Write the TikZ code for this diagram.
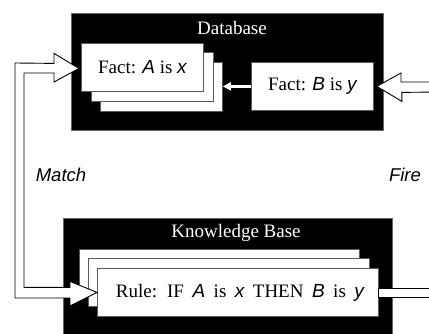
\documentclass[tikz,border=0pt]{standalone}
\usepackage{fontspec}
\setmainfont{Liberation Serif}
\newfontfamily\arialf{Liberation Sans}
\usetikzlibrary{arrows.meta,calc}
\newcommand{\va}[1]{{\arialf\itshape #1}}
\tikzset{
  blackbox/.style={draw=black!60, fill=black, line width=0.8pt, anchor=north west, inner sep=0pt},
  whitebox/.style={draw=black!65, fill=white, line width=0.8pt, anchor=north west, inner sep=0pt, minimum height=48pt},
  ttl/.style={text=white, font=\fontsize{19}{22}\selectfont, inner sep=0pt},
  txt/.style={font=\fontsize{19}{22}\selectfont, inner sep=0pt},
  lbl/.style={font=\fontsize{18.5}{22}\selectfont\arialf\itshape, inner sep=0pt},
  hollow/.style={draw=black, fill=white, line width=0.9pt, line join=miter}
}
\begin{document}
\begin{tikzpicture}[x=1pt,y=-1pt]
\useasboundingbox (0,0) rectangle (429,334);
\clip (0,0) rectangle (429,334);
% Database
\node[blackbox, minimum width=312pt, minimum height=117pt] (db) at (71,13) {};
\node[ttl] (dbt) at (232,28) {Database};
\node[whitebox, minimum width=122pt, minimum height=49pt] (fa3) at (100,62) {};
\node[whitebox, minimum width=122pt, minimum height=49pt] (fa2) at (91,52) {};
\node[whitebox, minimum width=122pt] (fa1) at (81,43) {};
\node[txt] (fat) at (fa1.center) {Fact: \va{A} is \va{x}};
\node[whitebox, minimum width=122pt] (fb) at (251,62) {};
\node[txt] (fbt) at (fb.center) {Fact: \va{B} is \va{y}};
\draw[white, line width=2.6pt, -{Triangle[length=8pt,width=8pt]}] (fb.west) -- (fb.west -| fa3.east);
% Knowledge base
\node[blackbox, minimum width=329pt, minimum height=140pt] (kb) at (63,218) {};
\node[ttl] (kbt) at (236,233) {Knowledge Base};
\node[whitebox, minimum width=280pt] (r3) at (79,249) {};
\node[whitebox, minimum width=281pt] (r2) at (88,258) {};
\node[whitebox, minimum width=281pt] (r1) at (97,268) {};
\node[txt] (rt) at ($(r1.center)+(2,0)$) {\spaceskip=8.5pt plus 1pt Rule: IF \va{A} is \va{x} THEN \va{B} is \va{y}};
% Match arrow (closed hollow polygon)
\coordinate (mtop) at ($(fa1.west)+(-2,1)$);
\coordinate (mbot) at ($(r1.west)+(0,0)$);
\draw[hollow] (mbot) -- ++(-27,-11) -- ++(0,6) -- ++(-46,0) -- (24,73) -- ++(30,0) -- ++(0,9) -- (mtop) -- ++(-25,-15) -- ++(0,10) -- (15,63) -- (15,298) -- ++(55,0) -- ++(0,8) -- cycle;
% Fire arrow
\coordinate (ftop) at ($(fb.east)+(3,0)$);
\draw[hollow] (440,82) -- ++(-39,0) -- ++(0,-9) -- (ftop) -- ++(25,15) -- ++(0,-9) -- (440,92);
\draw[hollow] (440,288) -- (r1.east |- 0,288) -- (r1.east |- 0,297) -- (440,297);
% labels
\node[lbl] (match) at (61,175) {Match};
\node[lbl] (fire) at (405,175) {Fire};
\end{tikzpicture}
\end{document}
